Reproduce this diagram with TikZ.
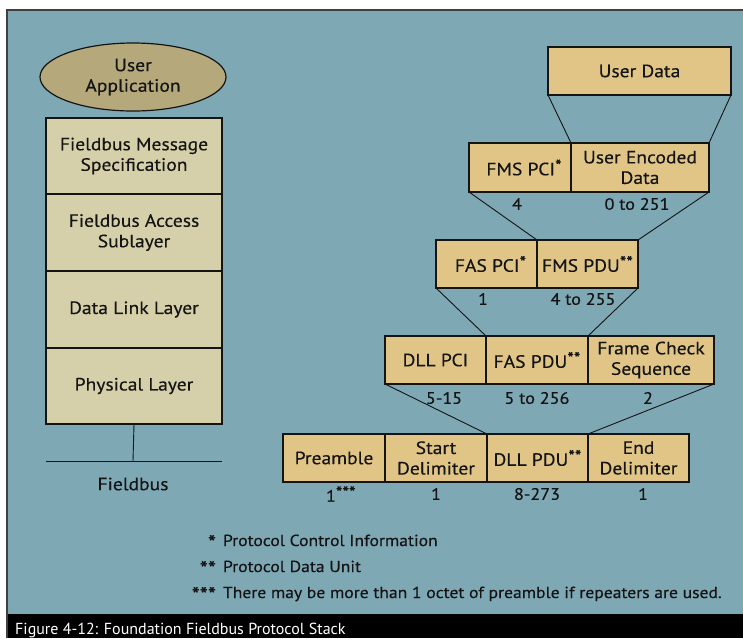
\documentclass[tikz,border=0pt]{standalone}
\usepackage{fontspec}
\setmainfont[FakeStretch=1.1,FakeBold=0.35]{PT Sans}
\newfontfamily\capfont{PT Sans}
\usetikzlibrary{shapes.geometric}
\definecolor{panel}{RGB}{127,168,181}
\definecolor{tanbox}{RGB}{224,197,135}
\definecolor{stackbox}{RGB}{213,208,169}
\definecolor{ellfill}{RGB}{181,168,122}
\definecolor{frameline}{RGB}{64,64,64}
\definecolor{ink}{RGB}{20,20,20}
\newcommand{\stars}[1]{\raisebox{0.2em}{\fontsize{17}{17}\selectfont #1}}
\tikzset{
  base/.style={inner sep=0pt, outer sep=0pt, text=ink, font=\fontsize{17.8}{20.5}\selectfont, align=center},
  pdubox/.style={base, draw=ink, line width=1.2pt, fill=tanbox, anchor=north west, minimum height=48pt},
  layerbox/.style={base, draw=ink, line width=1.2pt, fill=stackbox, anchor=north west, minimum width=176pt},
  sizelabel/.style={base, font=\fontsize{16.5}{19}\selectfont},
  link/.style={draw=ink, line width=0.9pt},
  note/.style={base, font=\fontsize{16}{19}\selectfont},
  notestar/.style={base, font=\fontsize{21}{21}\selectfont}
}
\begin{document}
\begin{tikzpicture}[x=1pt,y=-1pt]
\useasboundingbox (0,0) rectangle (743,638);
\fill[white] (0,0) rectangle (743,638);
% panel
\fill[panel] (7,10) rectangle (743,614);
\fill[black] (7,614) rectangle (743,638);
\draw[frameline, line width=1.3pt] (7,638) -- (7,10) -- (743,10);
\node[anchor=base west, inner sep=0pt, text=white, font=\capfont\fontsize{16}{18}\selectfont] (cap) at (15,634) {Figure 4-12: Foundation Fieldbus Protocol Stack};

% left stack
\node[base, ellipse, draw=ink, line width=1.2pt, fill=ellfill, minimum width=186pt, minimum height=68pt] (app) at (133,77) {User\\Application};
\node[layerbox, minimum height=76pt] (fms) at (46,118) {Fieldbus Message\\Specification};
\node[layerbox, minimum height=77pt] (fas) at (46,194) {Fieldbus Access\\Sublayer};
\node[layerbox, minimum height=77pt] (dll) at (46,271) {Data Link Layer};
\node[layerbox, minimum height=76pt] (phy) at (46,348) {Physical Layer};
\coordinate (tap) at (133,461);
\coordinate (busL) at (46,461);
\coordinate (busR) at (222,461);
\draw[link] (phy.south) -- (tap);
\draw[link] (busL) -- (busR);
\node[base] (fb) at (133,484) {Fieldbus};

% right: PDU encapsulation
\node[pdubox, minimum width=183pt] (ud) at (548,47) {User Data};
\node[pdubox, minimum width=102pt, minimum height=49pt] (fmspci) at (469,143) {\hspace*{8pt}FMS PCI\stars{*}};
\node[pdubox, minimum width=138pt, minimum height=49pt] (ued) at (571,143) {User Encoded\\Data};
\node[pdubox, minimum width=101pt] (faspci) at (436,240) {\hspace*{8pt}FAS PCI\stars{*}};
\node[pdubox, minimum width=101pt] (fmspdu) at (537,240) {FMS PDU\stars{**}};
\node[pdubox, minimum width=101pt] (dllpci) at (385,336) {DLL PCI};
\node[pdubox, minimum width=102pt] (faspdu) at (486,336) {FAS PDU\stars{**}};
\node[pdubox, minimum width=126pt] (fcs) at (588,336) {Frame Check\\Sequence};
\node[pdubox, minimum width=102pt] (pre) at (283,434) {Preamble};
\node[pdubox, minimum width=102pt] (sd) at (385,434) {Start\\Delimiter};
\node[pdubox, minimum width=101pt] (dllpdu) at (487,434) {DLL PDU\stars{**}};
\node[pdubox, minimum width=101pt] (ed) at (588,434) {End\\Delimiter};

\draw[link] (ud.south west) -- (ued.north west);
\draw[link] (ud.south east) -- (ued.north east);
\draw[link] (fmspci.south west) -- (fmspdu.north west);
\draw[link] (ued.south east) -- (fmspdu.north east);
\draw[link] (faspci.south west) -- (faspdu.north west);
\draw[link] (fmspdu.south east) -- (faspdu.north east);
\draw[link] (dllpci.south west) -- (dllpdu.north west);
\draw[link] (fcs.south east) -- (dllpdu.north east);

% sizes
\node[sizelabel] (l1) at (517,204) {4};
\node[sizelabel] (l2) at (637,204) {0 to 251};
\node[sizelabel] (l3) at (483,299) {1};
\node[sizelabel] (l4) at (583,299) {4 to 255};
\node[sizelabel] (l5) at (444,398) {5-15};
\node[sizelabel] (l6) at (537,398) {5 to 256};
\node[sizelabel] (l7) at (648,398) {2};
\node[sizelabel, anchor=west] (l8) at (326,494) {1\stars{***}};
\node[sizelabel] (l9) at (436,494) {1};
\node[sizelabel] (l10) at (537,494) {8-273};
\node[sizelabel] (l11) at (643,494) {1};

% footnotes
\node[notestar, anchor=base east] (s1) at (216,550) {*};
\node[note, anchor=base west] (n1) at (223,546) {Protocol Control Information};
\node[notestar, anchor=base east] (s2) at (216,576) {**};
\node[note, anchor=base west] (n2) at (223,572) {Protocol Data Unit};
\node[notestar, anchor=base east] (s3) at (216,602) {***};
\node[note, anchor=base west] (n3) at (223,598) {There may be more than 1 octet of preamble if repeaters are used.};
\end{tikzpicture}
\end{document}
